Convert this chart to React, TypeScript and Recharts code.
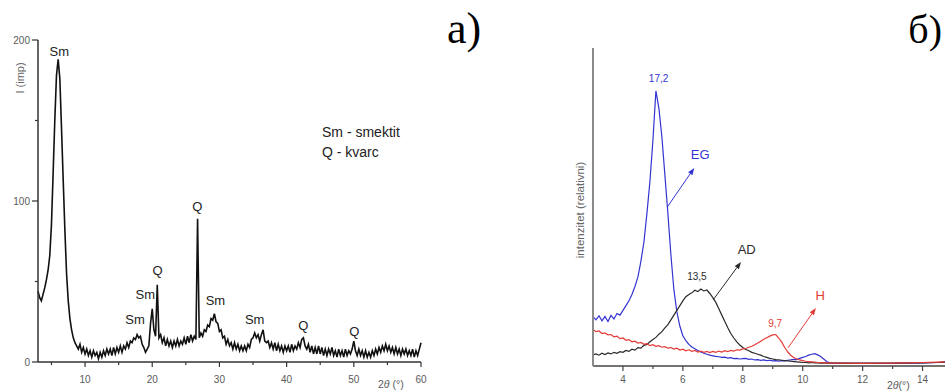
import { Line, LineChart, ReferenceDot, ReferenceLine, XAxis, YAxis } from "recharts";

// ---- panel a) : whole sample, counts read every 0.25° from 3° to 60° ----
const XRD_START = 3;
const XRD_STEP = 0.25;
const xrdCounts = [
  44, 40, 38, 42, 46, 51, 57, 66,
  85, 117, 150, 178, 188, 176, 145, 113,
  82, 55, 38, 27, 20, 15, 12, 10,
  8, 11, 6, 9, 5, 8, 4, 7,
  3, 7, 4, 6, 2, 6, 3, 7,
  4, 8, 5, 8, 4, 9, 5, 9,
  6, 10, 6, 10, 8, 12, 9, 13,
  12, 15, 14, 17, 15, 16, 11, 9,
  6, 8, 10, 24, 33, 20, 16, 48,
  15, 17, 12, 15, 10, 14, 10, 13,
  9, 13, 10, 14, 10, 13, 11, 15,
  11, 16, 12, 17, 13, 16, 14, 89,
  15, 18, 16, 20, 19, 23, 22, 27,
  26, 30, 25, 24, 19, 20, 15, 16,
  11, 14, 10, 12, 8, 12, 8, 11,
  7, 10, 7, 10, 7, 11, 9, 14,
  15, 18, 15, 17, 13, 17, 20, 13,
  12, 13, 9, 12, 8, 12, 7, 11,
  7, 10, 6, 10, 7, 10, 6, 11,
  7, 10, 8, 12, 9, 14, 15, 10,
  8, 11, 6, 10, 5, 9, 5, 10,
  5, 9, 4, 8, 4, 8, 5, 9,
  4, 7, 3, 8, 4, 7, 3, 8,
  4, 7, 5, 8, 13, 7, 4, 8,
  4, 7, 3, 7, 3, 6, 3, 7,
  4, 8, 5, 9, 6, 10, 7, 11,
  7, 10, 6, 9, 5, 9, 5, 8,
  4, 8, 5, 8, 4, 7, 4, 8,
  3, 7, 4, 8, 12,
];
const xrdXTicks = [5, 10, 15, 20, 25, 30, 35, 40, 45, 50, 55, 60];
const xrdYTicks = [0, 50, 100, 150, 200];

// phase markers above the peaks
const phaseNames = ["Sm", "Sm", "Sm", "Q", "Q", "Sm", "Sm", "Q", "Q"];
const phaseAngles = [6.18, 17.44, 18.98, 20.8, 26.7, 29.4, 35.25, 42.5, 50.08];
const phaseHeights = [192.7, 26.5, 42.2, 57.1, 96.9, 38.1, 26.7, 23, 19.3];

// ---- panel б) : EG / AD / H treatments, relative intensity ----
const B_START = 3;
const B_STEP = 0.1; // 3.0 .. 11.0
const bTailAngles = [11.5, 12, 12.5, 13, 13.5, 14, 14.5, 14.75];

const egValues = [
  15.5, 14.5, 15.8, 14.2, 15.6, 14.0, 15.9, 14.8, 16.5, 16.0,
  17.5, 19.0, 20.5, 22.5, 25.0, 28.0, 33.0, 39.0, 48.0, 58.0,
  71.0, 86.5, 81.0, 72.0, 60.0, 48.0, 35.0, 24.0, 17.0, 12.5,
  9.5, 8.0, 6.8, 6.0, 5.4, 4.9, 4.4, 4.0, 3.7, 3.4,
  3.2, 3.0, 2.9, 2.7, 2.8, 2.5, 2.6, 2.3, 2.4, 2.2,
  2.3, 2.4, 2.1, 2.2, 1.9, 2.0, 1.8, 1.9, 1.7, 1.8,
  1.6, 1.7, 1.5, 1.7, 1.6, 1.8, 1.9, 2.1, 2.0, 2.4,
  2.7, 3.0, 3.4, 3.7, 3.9, 3.5, 3.0, 2.2, 1.4, 1.0,
  0.9,
];
const adValues = [
  3.5, 3.8, 3.4, 4.0, 3.6, 4.1, 3.8, 4.3, 4.0, 4.5,
  4.3, 4.9, 4.6, 5.3, 5.0, 5.8, 5.6, 6.5, 6.8, 7.6,
  8.3, 9.0, 10.0, 10.8, 12.0, 13.0, 14.5, 16.0, 17.5, 19.0,
  20.5, 21.8, 22.5, 23.0, 23.8, 23.4, 24.2, 23.6, 23.9, 22.8,
  21.5, 20.0, 18.0, 16.0, 14.0, 12.0, 10.2, 8.8, 7.6, 6.6,
  5.8, 5.2, 4.8, 4.3, 4.0, 3.7, 3.4, 3.0, 2.7, 2.4,
  2.2, 2.0, 1.9, 1.8, 1.7, 1.6, 1.5, 1.4, 1.3, 1.2,
  1.1, 1.1, 1.0, 1.1, 1.0, 1.0, 0.9, 1.0, 0.9, 0.9,
  0.9,
];
const hValues = [
  11.5, 10.8, 11.0, 10.2, 10.4, 9.8, 9.9, 9.2, 9.4, 8.6,
  8.8, 8.1, 8.3, 7.6, 7.8, 7.2, 7.4, 6.8, 7.0, 6.4,
  6.7, 6.2, 6.4, 5.9, 6.1, 5.6, 5.8, 5.3, 5.6, 5.0,
  5.3, 4.8, 5.1, 4.6, 4.9, 4.4, 4.7, 4.3, 4.6, 4.2,
  4.6, 4.3, 4.7, 4.4, 4.8, 4.5, 4.9, 4.7, 5.1, 5.0,
  5.4, 5.5, 5.9, 6.2, 6.7, 7.2, 7.8, 8.4, 8.9, 9.4,
  9.8, 9.9, 8.8, 7.5, 5.8, 4.4, 3.4, 2.7, 2.2, 1.9,
  1.7, 1.5, 1.4, 1.3, 1.2, 1.1, 1.1, 1.0, 1.0, 0.9,
  0.9,
];
const egTail = [0.9, 0.8, 0.9, 0.8, 0.9, 1.0, 1.1, 1.2];
const adTail = [0.8, 0.9, 0.8, 0.9, 1.0, 1.0, 1.1, 1.2];
const hTail = [0.9, 0.8, 0.9, 0.9, 1.0, 1.1, 1.2, 1.3];

const bXTicks = [4, 5, 6, 7, 8, 9, 10, 11, 12, 13, 14];

// peak values (d-spacing) and series names, with their arrows
const peakNames = ["17,2", "13,5", "9,7"];
const peakAngles = [5.19, 6.47, 9.08];
const peakHeights = [90.3, 28.1, 13.4];
const seriesNames = ["EG", "AD", "H"];
const nameAngles = [6.58, 8.13, 10.58];
const nameHeights = [66.4, 36.7, 22.3];
const arrowFrom = [[5.48, 50], [7.01, 20.8], [9.51, 5.7]];
const arrowTo = [[6.38, 62.3], [7.94, 32.7], [10.44, 18.2]];

const BLUE = "#3434d2";
const BLACK = "#2a2a2a";
const RED = "#e23b36";
const seriesColors = [BLUE, BLACK, RED];

const xrdData = xrdCounts.map((c, i) => ({ angle: XRD_START + i * XRD_STEP, counts: c }));

const bAngles = [...egValues.map((_, i) => +(B_START + i * B_STEP).toFixed(2)), ...bTailAngles];
const egAll = [...egValues, ...egTail];
const adAll = [...adValues, ...adTail];
const hAll = [...hValues, ...hTail];
const bData = bAngles.map((a, i) => ({ angle: a, EG: egAll[i], AD: adAll[i], H: hAll[i] }));

const TICK_GREY = "#5a5a5a";

// ticks drawn by hand so major/minor can have different lengths
function AxisXTickA(props: any) {
  const { x, y, payload } = props;
  const major = payload.value % 10 === 0;
  return (
    <g>
      <line x1={x} x2={x} y1={y} y2={y + (major ? 5 : 3)} stroke="#333" strokeWidth={1.2} />
      {major && (
        <text x={x} y={y + 21} textAnchor="middle" fontSize={10} fill={TICK_GREY}>
          {payload.value}
        </text>
      )}
    </g>
  );
}

function AxisYTickA(props: any) {
  const { x, y, payload } = props;
  const major = payload.value % 100 === 0;
  return (
    <g>
      <line x1={x - (major ? 6 : 3)} x2={x} y1={y} y2={y} stroke="#333" strokeWidth={1.2} />
      {major && (
        <text x={x - 8} y={y + 3.5} textAnchor="end" fontSize={10} fill={TICK_GREY}>
          {payload.value}
        </text>
      )}
    </g>
  );
}

function AxisXTickB(props: any) {
  const { x, y, payload } = props;
  const major = payload.value % 2 === 0;
  return (
    <g>
      <line x1={x} x2={x} y1={y} y2={y + (major ? 5 : 3)} stroke="#444" strokeWidth={1.2} />
      {major && (
        <text x={x} y={y + 17} textAnchor="middle" fontSize={10} fill={TICK_GREY}>
          {payload.value}
        </text>
      )}
    </g>
  );
}

function arrowShape(color: string) {
  return (props: any) => {
    const { x1, y1, x2, y2 } = props;
    const ang = Math.atan2(y2 - y1, x2 - x1);
    const c = Math.cos(ang);
    const s = Math.sin(ang);
    const len = 7;
    const half = 2.6;
    const bx = x2 - len * c;
    const by = y2 - len * s;
    const pts = `${x2},${y2} ${bx + half * s},${by - half * c} ${bx - half * s},${by + half * c}`;
    return (
      <g>
        <line x1={x1} y1={y1} x2={bx} y2={by} stroke={color} strokeWidth={1} />
        <polygon points={pts} fill={color} />
      </g>
    );
  };
}

export default function App() {
  return (
    <div
      style={{
        position: "absolute",
        left: 0,
        top: 0,
        width: 945,
        height: 391,
        background: "#fff",
        fontFamily: '"Liberation Sans", Arial, sans-serif',
        overflow: "hidden",
      }}
    >
      {/* a) */}
      <div style={{ position: "absolute", left: 0, top: 0 }}>
        <LineChart width={440} height={391} data={xrdData} margin={{ top: 40, right: 19, bottom: 0, left: 0 }}>
          <XAxis
            dataKey="angle"
            type="number"
            domain={[3, 60]}
            ticks={xrdXTicks}
            interval={0}
            height={29}
            tickSize={0}
            tickMargin={0}
            tickLine={false}
            tick={AxisXTickA}
            axisLine={{ stroke: "#333", strokeWidth: 1.5 }}
          />
          <YAxis
            type="number"
            domain={[0, 200]}
            ticks={xrdYTicks}
            interval={0}
            width={38}
            tickSize={0}
            tickMargin={0}
            tickLine={false}
            tick={AxisYTickA}
            axisLine={{ stroke: "#333", strokeWidth: 1.5 }}
          />
          <Line
            dataKey="counts"
            type="linear"
            stroke="#111"
            strokeWidth={1.6}
            dot={false}
            isAnimationActive={false}
          />
          {phaseNames.map((name, i) => (
            <ReferenceDot
              key={`ph${i}`}
              x={phaseAngles[i]}
              y={phaseHeights[i]}
              r={0}
              fill="none"
              stroke="none"
              ifOverflow="visible"
              label={{ value: name, position: "center", fill: "#222", fontSize: 13 }}
            />
          ))}
        </LineChart>
      </div>

      {/* б) */}
      <div style={{ position: "absolute", left: 540, top: 0 }}>
        <LineChart width={405} height={391} data={bData} margin={{ top: 48, right: 0, bottom: 0, left: 0 }}>
          <XAxis
            dataKey="angle"
            type="number"
            domain={[3, 14.75]}
            ticks={bXTicks}
            interval={0}
            height={25}
            tickSize={0}
            tickMargin={0}
            tickLine={false}
            tick={AxisXTickB}
            axisLine={{ stroke: "#444", strokeWidth: 1.5 }}
          />
          <YAxis
            type="number"
            domain={[0, 100]}
            width={53}
            tick={false}
            tickLine={false}
            axisLine={{ stroke: "#8a8a8a", strokeWidth: 2 }}
          />
          <Line dataKey="EG" type="linear" stroke={BLUE} strokeWidth={1.2} dot={false} isAnimationActive={false} />
          <Line dataKey="AD" type="linear" stroke={BLACK} strokeWidth={1.2} dot={false} isAnimationActive={false} />
          <Line dataKey="H" type="linear" stroke={RED} strokeWidth={1.2} dot={false} isAnimationActive={false} />
          {seriesNames.map((name, i) => (
            <ReferenceLine
              key={`ar${i}`}
              segment={[
                { x: arrowFrom[i][0], y: arrowFrom[i][1] },
                { x: arrowTo[i][0], y: arrowTo[i][1] },
              ]}
              stroke={seriesColors[i]}
              shape={arrowShape(seriesColors[i])}
            />
          ))}
          {seriesNames.map((name, i) => (
            <ReferenceDot
              key={`sn${i}`}
              x={nameAngles[i]}
              y={nameHeights[i]}
              r={0}
              fill="none"
              stroke="none"
              ifOverflow="visible"
              label={{ value: name, position: "center", fill: seriesColors[i], fontSize: 13 }}
            />
          ))}
          {peakNames.map((name, i) => (
            <ReferenceDot
              key={`pk${i}`}
              x={peakAngles[i]}
              y={peakHeights[i]}
              r={0}
              fill="none"
              stroke="none"
              ifOverflow="visible"
              label={{ value: name, position: "center", fill: seriesColors[i], fontSize: 10 }}
            />
          ))}
        </LineChart>
      </div>

      {/* static captions */}
      <svg
        width={945}
        height={391}
        style={{ position: "absolute", left: 0, top: 0, pointerEvents: "none" }}
      >
        <text x={447} y={43} fontFamily='"Liberation Serif", "Times New Roman", serif' fontSize={44} fill="#000">
          a)
        </text>
        <text
          x={942}
          y={43}
          textAnchor="end"
          fontFamily='"Liberation Serif", "Times New Roman", serif'
          fontSize={40}
          fill="#000"
        >
          б)
        </text>
        <text x={322} y={137} fontSize={14} fill="#222">
          Sm - smektit
        </text>
        <text x={322} y={157} fontSize={14} fill="#222">
          Q - kvarc
        </text>
        <text x={0} y={0} fontSize={11} fill="#666" textAnchor="middle" transform="translate(24,78) rotate(-90)">
          I (imp)
        </text>
        <text x={378} y={388} fontSize={10.5} fill={TICK_GREY}>
          2<tspan fontStyle="italic">θ</tspan> (°)
        </text>
        <text
          x={0}
          y={0}
          fontSize={11.5}
          fill="#666"
          textAnchor="middle"
          transform="translate(584,210) rotate(-90)"
        >
          intenzitet (relativni)
        </text>
        <text x={887} y={389} fontSize={10.5} fill={TICK_GREY}>
          2<tspan fontStyle="italic">θ</tspan>(°)
        </text>
      </svg>
    </div>
  );
}
